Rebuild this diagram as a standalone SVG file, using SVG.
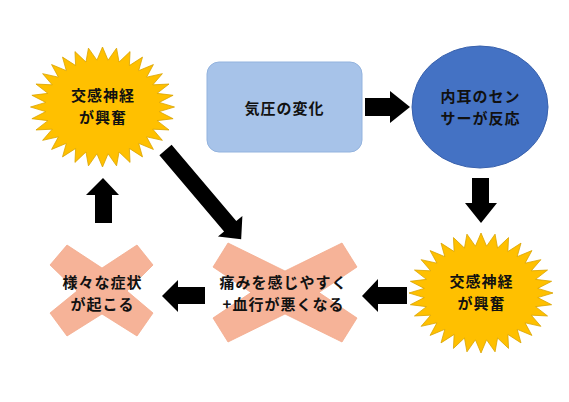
<svg xmlns="http://www.w3.org/2000/svg" xmlns:xlink="http://www.w3.org/1999/xlink" width="569" height="402" viewBox="0 0 569 402">
<style>
.t{font-family:"Noto Sans CJK JP","Noto Sans CJK SC",sans-serif;font-size:15px;letter-spacing:1px;font-weight:bold;fill:#111;text-anchor:middle}
.star{fill:#ffc000;stroke:#d9a300;stroke-width:0.8}
.cross{fill:#f6b398;stroke:#f3ab8d;stroke-width:0.8}
.arrow{fill:#000}
</style>
<defs>
<polygon id="starShape" points="0,-60 5.59,-46.77 14.05,-58.85 16.55,-44.98 27.55,-55.43 26.87,-41.45 40,-49.89 36.16,-36.33 50.91,-42.43 44.06,-29.82 59.87,-33.33 50.27,-22.16 66.52,-22.96 54.55,-13.64 70.62,-11.71 56.73,-4.61 72,0 56.73,4.61 70.62,11.71 54.55,13.64 66.52,22.96 50.27,22.16 59.87,33.33 44.06,29.82 50.91,42.43 36.16,36.33 40,49.89 26.87,41.45 27.55,55.43 16.55,44.98 14.05,58.85 5.59,46.77 0,60 -5.59,46.77 -14.05,58.85 -16.55,44.98 -27.55,55.43 -26.87,41.45 -40,49.89 -36.16,36.33 -50.91,42.43 -44.06,29.82 -59.87,33.33 -50.27,22.16 -66.52,22.96 -54.55,13.64 -70.62,11.71 -56.73,4.61 -72,0 -56.73,-4.61 -70.62,-11.71 -54.55,-13.64 -66.52,-22.96 -50.27,-22.16 -59.87,-33.33 -44.06,-29.82 -50.91,-42.43 -36.16,-36.33 -40,-49.89 -26.87,-41.45 -27.55,-55.43 -16.55,-44.98 -14.05,-58.85 -5.59,-46.77"/>
</defs>
<rect width="569" height="402" fill="#fff"/>

<g id="connectors">
<polygon class="arrow" points="365,98 390,98 390,91 410,107 390,123 390,116 365,116"/>
<polygon class="arrow" points="472,178 489,178 489,203 497,203 481,223 465,203 472,203"/>
<polygon class="arrow" points="362,296 378,279 378,287 407,287 407,304 378,304 378,312"/>
<polygon class="arrow" points="162,296 178,280 178,287 205,287 205,304 178,304 178,312"/>
<polygon class="arrow" points="103,178 119,195 112,195 112,223 95,223 95,195 86,195"/>
<polygon class="arrow" transform="translate(165.5,150) rotate(49.7)" points="0,-8 100,-8 100,-16 117,0 100,16 100,8 0,8"/>
</g>

<g id="node-star-top">
<use xlink:href="#starShape" href="#starShape" class="star" transform="translate(102.5,107)"/>
<text class="t"><tspan x="103" y="101">交感神経</tspan><tspan x="103" y="123">が興奮</tspan></text>
</g>

<g id="node-pressure">
<rect x="207" y="62" width="155" height="90" rx="12" ry="12" fill="#a7c3e9" stroke="#93b3de" stroke-width="1"/>
<text class="t" x="284.5" y="114">気圧の変化</text>
</g>

<g id="node-sensor">
<ellipse cx="480" cy="107" rx="68" ry="61" fill="#4472c4" stroke="#3a62ad" stroke-width="1"/>
<text class="t"><tspan x="480.5" y="102">内耳のセン</tspan><tspan x="480.5" y="124">サーが反応</tspan></text>
</g>

<g id="node-star-bottom">
<use xlink:href="#starShape" href="#starShape" class="star" transform="translate(481,293)"/>
<text class="t"><tspan x="481.5" y="287">交感神経</tspan><tspan x="481.5" y="309">が興奮</tspan></text>
</g>

<g id="node-pain">
<polygon class="cross" points="228,243 285,271 342,243 357,267 319,292.5 357,318 342,342 285,314 228,342 213,318 251,292.5 213,267"/>
<text class="t"><tspan x="283.5" y="288">痛みを感じやすく</tspan><tspan x="283.5" y="310">+血行が悪くなる</tspan></text>
</g>

<g id="node-symptoms">
<polygon class="cross" points="67,245 102,268 137,245 153,265 127,291 153,313 137,336 102,314 67,336 50,313 77,291 50,265"/>
<text class="t"><tspan x="102.5" y="288">様々な症状</tspan><tspan x="102.5" y="310">が起こる</tspan></text>
</g>
</svg>
